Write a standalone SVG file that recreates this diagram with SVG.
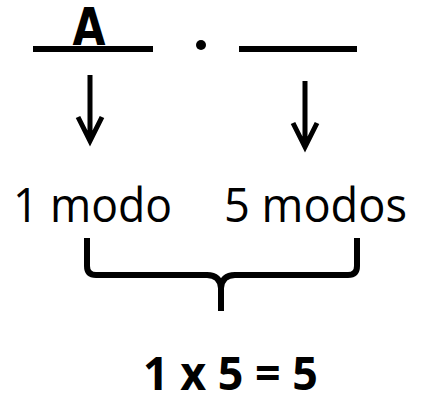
<svg xmlns="http://www.w3.org/2000/svg" width="424" height="403" viewBox="0 0 424 403">
  <style>
    .ln { stroke: #000; stroke-width: 6; fill: none; }
    .arr { stroke: #000; stroke-width: 5; fill: none; stroke-linejoin: miter; }
    .lbl { font-family: "Open Sans", "Noto Sans", sans-serif; font-size: 48px; fill: #000; }
    .res { font-family: "Open Sans", "Noto Sans", sans-serif; font-size: 47px; font-weight: bold; fill: #000; }
  </style>
  <rect width="424" height="403" fill="#fff"/>

  <g id="slot1">
    <line class="ln" x1="33" y1="49" x2="153" y2="49"/>
    <text x="89" y="45" text-anchor="middle" font-family="DejaVu Sans, sans-serif" font-weight="bold" font-size="51" textLength="33" lengthAdjust="spacingAndGlyphs">A</text>
  </g>
  <g id="dot">
    <circle cx="201" cy="45" r="5" fill="#000"/>
  </g>
  <g id="slot2">
    <line class="ln" x1="239" y1="49" x2="357" y2="49"/>
  </g>

  <g id="connectors">
    <path class="arr" d="M90,75 V140 M78,117 L90,141 L102,117"/>
    <path class="arr" d="M305,81 V146 M293,123 L305,147 L317,123"/>
    <path class="ln" d="M87,238 V266 Q87,275 96,275 H207 Q220,275 221,288 V311"/>
    <path class="ln" d="M357,238 V266 Q357,275 348,275 H235 Q222,275 221,288"/>
  </g>

  <g id="option1">
    <text class="lbl" x="13" y="222" textLength="159" lengthAdjust="spacingAndGlyphs">1 modo</text>
  </g>
  <g id="option2">
    <text class="lbl" x="224" y="222" textLength="183" lengthAdjust="spacingAndGlyphs">5 modos</text>
  </g>
  <g id="result">
    <text class="res" x="143" y="390" textLength="175" lengthAdjust="spacingAndGlyphs">1 x 5 = 5</text>
  </g>
</svg>
